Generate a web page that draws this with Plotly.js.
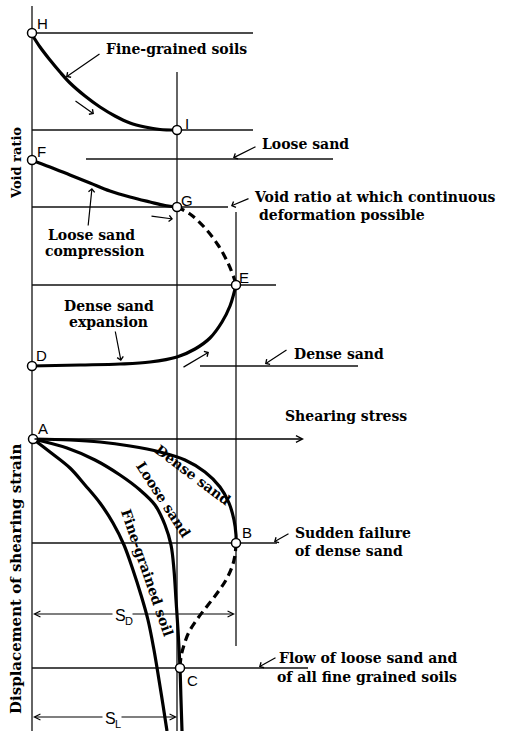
<!DOCTYPE html>
<html><head><meta charset="utf-8">
<script src="https://cdn.plot.ly/plotly-3.0.1.min.js"></script>
<style>html,body{margin:0;padding:0;background:#fff}#chart{width:512px;height:731px}</style>
</head><body><div id="chart"></div>
<script>
// ---- Data read from the schematic (drawing units; y grows downward) ----
// Upper diagram: void ratio against shearing stress
const fineVoidX  = [31, 40, 50, 60, 70, 85, 100, 115, 130, 145, 160, 177];
const fineVoidY  = [33, 47, 60, 72, 83, 96, 107, 116, 123, 127, 129.5, 130];
const looseCompX = [31, 50, 70, 90, 110, 130, 150, 165, 177];
const looseCompY = [160, 167, 175, 183, 191, 197, 202, 205.5, 207];
const transGEX   = [177, 190, 205, 218, 228, 234, 236];
const transGEY   = [207, 214, 228, 245, 263, 278, 285];
const denseExpX  = [31, 80, 120, 150, 177, 195, 210, 222, 230, 234, 236];
const denseExpY  = [366, 365, 364, 362, 357, 349, 338, 322, 306, 293, 285];
// Lower diagram: displacement (shearing strain) against shearing stress
const denseStrX  = [33, 70, 100, 130, 160, 185, 205, 220, 229, 234, 236, 236];
const denseStrY  = [439, 440, 442, 446, 452, 460, 472, 487, 503, 520, 535, 543];
const looseStrX  = [33, 67, 95, 120, 140, 155, 165, 171, 174, 176, 178, 180, 181, 182];
const looseStrY  = [439, 448, 460, 475, 490, 505, 525, 545, 570, 600, 630, 668, 700, 731];
const fineStrX   = [33, 50, 70, 85, 100, 113, 124, 133, 141, 148, 154, 159, 163, 167];
const fineStrY   = [439, 452, 468, 485, 503, 523, 545, 570, 595, 620, 650, 680, 705, 731];
const failBCX    = [236, 235, 232, 226, 218, 208, 198, 189, 184, 181, 180];
const failBCY    = [543, 555, 567, 580, 592, 605, 618, 632, 645, 657, 668];
// Guide lines
const hGuideY  = [33, 130, 159, 207, 285, 366, 543, 668];
const hGuideX0 = [32, 32, 86, 32, 32, 200, 32, 32];
const hGuideX1 = [253, 253, 333, 228, 276, 358, 277, 308];
const vGuideX  = [32, 177, 236];
const vGuideY0 = [6, 72, 212];
const vGuideY1 = [731, 731, 646];
// Key points
const pointNames = ['H', 'I', 'F', 'G', 'E', 'D', 'A', 'B', 'C'];
const pointX = [32, 177, 32, 177, 236, 32, 33, 236, 180];
const pointY = [33, 130, 160, 207, 285, 366, 439, 543, 668];

// ---- Build traces ----
function segs(x0s, y0s, x1s, y1s) {
  const x = [], y = [];
  for (let i = 0; i < x0s.length; i++) { x.push(x0s[i], x1s[i], null); y.push(y0s[i], y1s[i], null); }
  return {x, y};
}
const hs = segs(hGuideX0, hGuideY, hGuideX1, hGuideY);
const vs = segs(vGuideX, vGuideY0, vGuideX, vGuideY1);
const thin = {color: '#111', width: 1.3};
const traces = [
  {x: hs.x, y: hs.y, mode: 'lines', line: thin, hoverinfo: 'skip'},
  {x: vs.x, y: vs.y, mode: 'lines', line: thin, hoverinfo: 'skip'}
];
[
  [fineVoidX, fineVoidY, 'solid'], [looseCompX, looseCompY, 'solid'],
  [transGEX, transGEY, '8px,5px'], [denseExpX, denseExpY, 'solid'],
  [denseStrX, denseStrY, 'solid'], [looseStrX, looseStrY, 'solid'],
  [fineStrX, fineStrY, 'solid'], [failBCX, failBCY, '8px,5px']
].forEach(c => traces.push({x: c[0], y: c[1], mode: 'lines',
  line: {color: '#000', width: 3.2, shape: 'spline', dash: c[2]}}));
traces.push({x: pointX, y: pointY, mode: 'markers',
  marker: {size: 9, color: '#fff', line: {color: '#000', width: 1.5}}});

// ---- Annotations ----
const serif = {family: 'DejaVu Serif', size: 14, color: '#000', weight: 'bold'};
const sans = {family: 'Liberation Sans', size: 15, color: '#000'};
const ann = [];
function txt(t, x, y, opts) {
  ann.push(Object.assign({text: t, x: x, y: y, xref: 'x', yref: 'y', showarrow: false,
    font: serif, xanchor: 'left', yanchor: 'middle'}, opts || {}));
}
function arr(x0, y0, x1, y1, head, opts) {
  ann.push(Object.assign({text: '', x: x1, y: y1, ax: x0, ay: y0, xref: 'x', yref: 'y',
    axref: 'x', ayref: 'y', showarrow: true, arrowhead: head, arrowsize: 1, arrowwidth: 1.2,
    arrowcolor: '#000'}, opts || {}));
}
const letterOff = {H: [10, -10], I: [10, -7], F: [9, -9], G: [10, -7], E: [8, -8],
                   D: [9, -11], A: [10, -11], B: [11, -11], C: [12, 12]};
pointNames.forEach((n, i) => {
  txt(n, pointX[i] + letterOff[n][0], pointY[i] + letterOff[n][1], {font: sans, xanchor: 'center'});
});
txt('Void ratio', 16, 163, {textangle: -90, xanchor: 'center', font: Object.assign({}, serif, {size: 13})});
txt('Displacement of shearing strain', 16, 579, {textangle: -90, xanchor: 'center', font: Object.assign({}, serif, {size: 15})});
txt('Shearing stress', 346, 416, {xanchor: 'center'});
txt('Fine-grained soils', 104, 49);
arr(101, 53, 66, 77, 4);
txt('Loose sand', 260, 144);
arr(257, 146, 233, 158, 4);
txt('Void ratio at which continuous', 252, 197);
txt('deformation possible', 257, 215);
arr(250, 198, 231, 206, 4);
txt('Loose sand', 91, 235, {xanchor: 'center'});
txt('compression', 94, 251, {xanchor: 'center'});
arr(88, 227, 92, 188, 4);
txt('Dense sand', 109, 306, {xanchor: 'center'});
txt('expansion', 108, 322, {xanchor: 'center'});
arr(115, 330, 121, 361, 4);
txt('Dense sand', 292, 354);
arr(288, 349, 265, 364, 4);
txt('Sudden failure', 293, 533);
txt('of dense sand', 293, 551);
arr(290, 533, 274, 542, 4);
txt('Flow of loose sand and', 277, 658);
txt('of all fine grained soils', 275, 677);
arr(277, 657, 259, 667, 4);
// direction arrows
arr(74, 100, 94, 114, 4);
arr(150, 216, 173, 219, 4);
arr(182, 368, 209, 352, 4);
// shearing stress axis
arr(33, 439, 304, 439, 5, {arrowwidth: 1.3});
// rotated curve labels
txt('Dense sand', 193, 475, {textangle: 37, xanchor: 'center'});
txt('Loose sand', 163, 499, {textangle: 57, xanchor: 'center'});
txt('Fine-grained soil', 147, 572, {textangle: 71, xanchor: 'center'});
// S_D and S_L dimension arrows
arr(131, 614, 235, 614, 5);
arr(114, 614, 33, 614, 5);
arr(120, 717, 177, 717, 5);
arr(104, 717, 33, 717, 5);
txt('S', 120, 615, {xanchor: 'center', font: Object.assign({}, sans, {size: 16})});
txt('D', 129, 621, {xanchor: 'center', font: Object.assign({}, sans, {size: 11})});
txt('S', 110, 718, {xanchor: 'center', font: Object.assign({}, sans, {size: 16})});
txt('L', 118, 724, {xanchor: 'center', font: Object.assign({}, sans, {size: 11})});

const layout = {
  width: 512, height: 731,
  margin: {l: 0, r: 0, t: 0, b: 0},
  paper_bgcolor: '#fff', plot_bgcolor: '#fff',
  showlegend: false,
  xaxis: {range: [0, 512], visible: false, fixedrange: true},
  yaxis: {range: [731, 0], visible: false, fixedrange: true},
  annotations: ann
};
Plotly.newPlot('chart', traces, layout, {staticPlot: true, displayModeBar: false});
</script>
</body></html>
